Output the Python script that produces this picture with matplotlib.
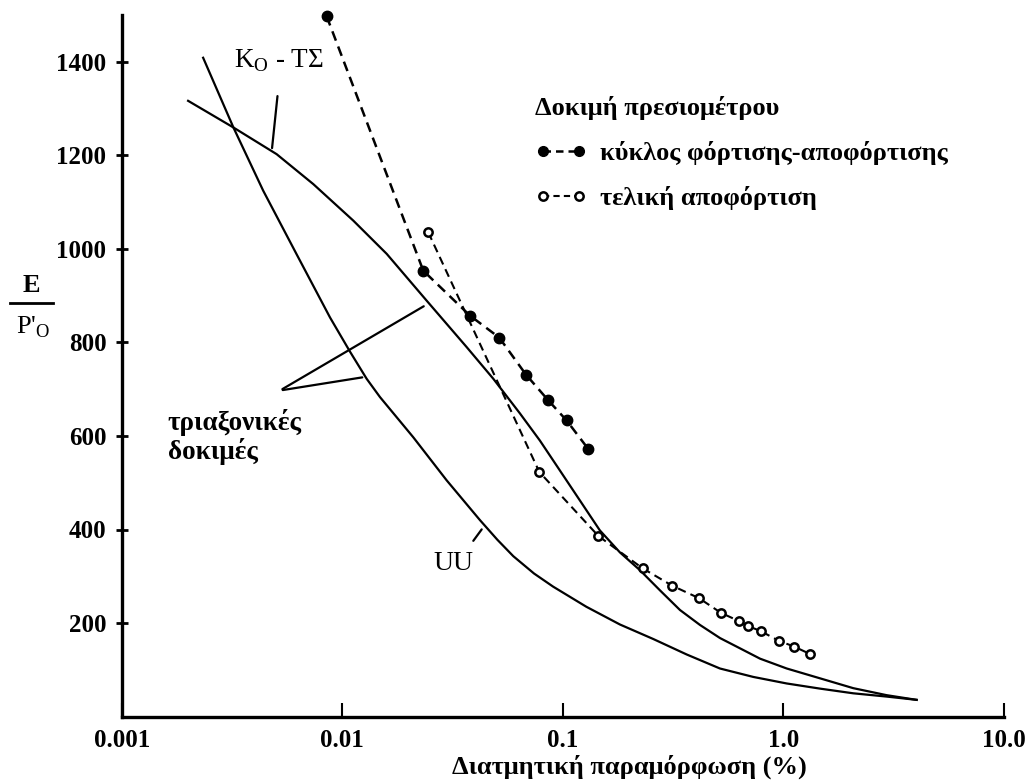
import matplotlib
matplotlib.use("Agg")
import matplotlib.pyplot as plt
from matplotlib.lines import Line2D

plt.rcParams['font.family'] = ['Liberation Serif', 'DejaVu Serif']
plt.rcParams['mathtext.fontset'] = 'custom'
plt.rcParams['mathtext.rm'] = 'Liberation Serif'
plt.rcParams['mathtext.bf'] = 'Liberation Serif:bold'

# ---- data ----
k0_strain = [0.00200, 0.00321, 0.00504, 0.00739, 0.01122, 0.01590, 0.02413, 0.0366,
             0.0484, 0.0639, 0.0787, 0.0970, 0.1195, 0.1472, 0.1815, 0.2237, 0.2756,
             0.3396, 0.4186, 0.516, 0.636, 0.7835, 1.035, 1.465, 2.072, 2.937, 4.017]
k0_ratio = [1316, 1259, 1202, 1138, 1060, 989, 889, 790, 722, 648, 590, 526, 462,
            398, 351, 313, 270, 228, 196, 168, 146, 124, 103, 82, 61, 46, 36]

uu_strain = [0.00234, 0.00321, 0.00438, 0.00621, 0.00880, 0.01084, 0.01290, 0.01482,
             0.02099, 0.02974, 0.04210, 0.0505, 0.05961, 0.0740, 0.0903, 0.1277,
             0.1815, 0.2570, 0.3641, 0.5154, 0.7298, 1.035, 1.465, 2.072, 2.937, 4.017]
uu_ratio = [1408, 1259, 1124, 988, 853, 780, 722, 683, 597, 505, 420, 378, 343, 306,
            278, 235, 197, 166, 133, 103, 85, 71, 60, 50, 43, 36]

cycle_strain = [0.00849, 0.02329, 0.03793, 0.05149, 0.06803, 0.08586, 0.1040, 0.1304]
cycle_ratio = [1497, 953, 857, 810, 731, 676, 633, 572]

final_strain = [0.02454, 0.0782, 0.1450, 0.2300, 0.3130, 0.4152, 0.5206, 0.6305,
                0.6886, 0.7882, 0.9545, 1.116, 1.319]
final_ratio = [1035, 523, 386, 317, 280, 253, 222, 204, 194, 183, 162, 150, 134]

x_ticks = [0.001, 0.01, 0.1, 1.0, 10.0]
x_ticklabels = ["0.001", "0.01", "0.1", "1.0", "10.0"]
y_ticks = [200, 400, 600, 800, 1000, 1200, 1400]
y_ticklabels = ["200", "400", "600", "800", "1000", "1200", "1400"]

legend_title = "Δοκιμή πρεσιομέτρου"
label_cycle = "κύκλος φόρτισης-αποφόρτισης"
label_final = "τελική αποφόρτιση"
x_label = "Διατμητική παραμόρφωση (%)"

W, H = 1032, 782
fig = plt.figure(figsize=(W / 100, H / 100), dpi=100)
fig.patch.set_facecolor('white')

def fx(px):
    return px / W

def fy(py):
    return 1 - py / H

ax = fig.add_axes([fx(121.7), fy(716.7), (1004 - 121.7) / W, (716.7 - 14.7) / H])
ax.set_xscale('log')
ax.set_xlim(0.001, 10)
ax.set_ylim(0, 1500)

for s in ['top', 'right']:
    ax.spines[s].set_visible(False)
for s in ['left', 'bottom']:
    ax.spines[s].set_linewidth(2.4)
    ax.spines[s].set_color('black')

ax.set_xticks(x_ticks)
ax.set_xticklabels(x_ticklabels)
ax.xaxis.set_minor_locator(matplotlib.ticker.NullLocator())
ax.set_yticks(y_ticks)
ax.set_yticklabels(y_ticklabels)
ax.tick_params(axis='x', direction='in', length=10, width=1.5, pad=9,
               labelsize=18)
ax.tick_params(axis='y', direction='inout', length=8, width=2, pad=7,
               labelsize=18)
for lab in ax.get_xticklabels() + ax.get_yticklabels():
    lab.set_fontweight('bold')

lw_curve = 1.6
ax.plot(k0_strain, k0_ratio, color='black', lw=lw_curve, solid_joinstyle='round')
ax.plot(uu_strain, uu_ratio, color='black', lw=lw_curve, solid_joinstyle='round')

ax.plot(cycle_strain, cycle_ratio, color='black', lw=1.8, ls=(0, (4, 2.5)),
        marker='o', ms=7.5, mfc='black', mec='black', clip_on=False)
ax.plot(final_strain, final_ratio, color='black', lw=1.5, ls=(0, (4, 2.5)),
        marker='o', ms=6, mfc='white', mec='black', mew=1.8, clip_on=False)

# annotations
ax.text(0.00322, 1401, r"K$_{\mathrm{O}}$ - ΤΣ", fontsize=19.5, ha='left', va='center')
ax.annotate("", xy=(0.00479, 1209), xytext=(0.00510, 1332),
            arrowprops=dict(arrowstyle='-', lw=1.6, color='black'))

ax.text(0.0318, 328, "UU", fontsize=20, ha='center', va='center')
ax.annotate("", xy=(0.0436, 405), xytext=(0.0386, 371),
            arrowprops=dict(arrowstyle='-', lw=1.6, color='black'))

ax.text(0.00162, 597, "τριαξονικές\nδοκιμές", fontsize=19.5, fontweight='bold',
        ha='left', va='center', linespacing=1.1)
ax.annotate("", xy=(0.0240, 880), xytext=(0.00522, 697),
            arrowprops=dict(arrowstyle='-', lw=1.6, color='black'))
ax.annotate("", xy=(0.01268, 726), xytext=(0.00522, 697),
            arrowprops=dict(arrowstyle='-', lw=1.6, color='black'))

# legend
h1 = Line2D([], [], color='black', lw=1.8, ls=(0, (3, 2)), marker='o', ms=7,
            mfc='black', mec='black')
h2 = Line2D([], [], color='black', lw=1.5, ls=(0, (3, 2)), marker='o', ms=6,
            mfc='white', mec='black', mew=1.8)
leg = ax.legend([h1, h2], [label_cycle, label_final], title=legend_title,
                loc='upper left', bbox_to_anchor=(fx(535), fy(96)),
                bbox_transform=fig.transFigure, frameon=False, numpoints=2,
                handlelength=1.95, handletextpad=0.5, labelspacing=0.8,
                borderpad=0, borderaxespad=0,
                prop={'size': 19, 'weight': 'bold'},
                title_fontproperties={'size': 19, 'weight': 'bold'})
leg._legend_box.align = "left"

# axis labels
fig.text(fx(629), fy(767), x_label, fontsize=19, fontweight='bold',
         ha='center', va='center')
fig.text(fx(31), fy(285), "E", fontsize=19, fontweight='bold', ha='center', va='center')
fig.add_artist(Line2D([fx(10), fx(53)], [fy(303), fy(303)], color='black', lw=2,
                      transform=fig.transFigure))
fig.text(fx(33), fy(327), r"P$'_{\mathrm{O}}$", fontsize=19, ha='center', va='center')

fig.savefig("out.png", dpi=100, facecolor='white')
